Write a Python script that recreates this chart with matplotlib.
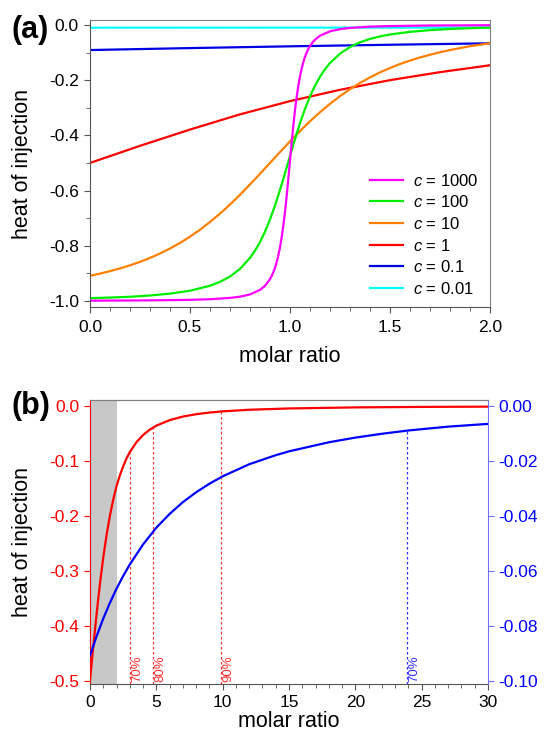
import matplotlib
matplotlib.use("Agg")
import matplotlib.pyplot as plt
from matplotlib.ticker import MultipleLocator, FuncFormatter

plt.rcParams["font.family"] = ["Liberation Sans", "DejaVu Sans"]
plt.rcParams["mathtext.fontset"] = "custom"
plt.rcParams["mathtext.it"] = "Liberation Sans:italic"
plt.rcParams["mathtext.rm"] = "Liberation Sans"
plt.rcParams["axes.unicode_minus"] = False

# ---- panel (a): heat of injection vs molar ratio for several c values ----
x_c1000 = [0.0, 0.3, 0.5, 0.6, 0.7, 0.75, 0.8, 0.85, 0.875, 0.9, 0.91, 0.92, 0.93,
           0.94, 0.95, 0.96, 0.97, 0.975, 0.98, 0.985, 0.99, 0.995, 1.0, 1.005, 1.01,
           1.015, 1.02, 1.025, 1.03, 1.04, 1.05, 1.06, 1.07, 1.08, 1.09, 1.1, 1.12,
           1.15, 1.2, 1.25, 1.3, 1.4, 1.5, 1.7, 2.0]
y_c1000 = [-0.999, -0.998, -0.996, -0.9938, -0.989, -0.9846, -0.9765, -0.960, -0.9454,
           -0.921, -0.9076, -0.890, -0.8686, -0.841, -0.8062, -0.7625, -0.7085, -0.6774,
           -0.644, -0.6081, -0.570, -0.5316, -0.492, -0.4528, -0.414, -0.3774, -0.342,
           -0.3099, -0.280, -0.228, -0.1862, -0.153, -0.1267, -0.106, -0.0894, -0.076,
           -0.0569, -0.039, -0.023, -0.0152, -0.0107, -0.0061, -0.004, -0.002, -0.001]

x_c100 = [0.0, 0.1, 0.2, 0.3, 0.4, 0.5, 0.6, 0.65, 0.7, 0.75, 0.8, 0.825, 0.85, 0.875,
          0.9, 0.925, 0.95, 0.97, 0.99, 1.0, 1.02, 1.05, 1.075, 1.1, 1.125, 1.15, 1.175,
          1.2, 1.25, 1.3, 1.35, 1.4, 1.45, 1.5, 1.6, 1.7, 1.8, 1.9, 2.0]
y_c100 = [-0.990, -0.9878, -0.985, -0.9802, -0.9735, -0.963, -0.945, -0.9309, -0.9116,
          -0.884, -0.844, -0.8182, -0.787, -0.7492, -0.705, -0.6545, -0.598, -0.5498,
          -0.500, -0.475, -0.4258, -0.356, -0.3044, -0.259, -0.2203, -0.188, -0.1605,
          -0.138, -0.104, -0.080, -0.0629, -0.0506, -0.0415, -0.0345, -0.025, -0.0187,
          -0.0146, -0.0117, -0.0095]

x_c10 = [0.0, 0.05, 0.1, 0.15, 0.2, 0.25, 0.3, 0.35, 0.4, 0.45, 0.5, 0.55, 0.6, 0.65,
         0.7, 0.75, 0.8, 0.85, 0.9, 0.95, 1.0, 1.05, 1.1, 1.15, 1.2, 1.25, 1.3, 1.35,
         1.4, 1.45, 1.5, 1.55, 1.6, 1.65, 1.7, 1.75, 1.8, 1.85, 1.9, 1.95, 2.0]
y_c10 = [-0.909, -0.9011, -0.892, -0.8822, -0.871, -0.8584, -0.844, -0.8281, -0.810,
         -0.7899, -0.767, -0.7421, -0.714, -0.6838, -0.651, -0.6154, -0.578, -0.5394,
         -0.500, -0.4606, -0.422, -0.3846, -0.349, -0.3162, -0.286, -0.2579, -0.233,
         -0.2101, -0.190, -0.1719, -0.156, -0.1416, -0.129, -0.1178, -0.108, -0.0989,
         -0.091, -0.0838, -0.077, -0.0717, -0.0665]

x_c1 = [0.0, 0.25, 0.5, 0.75, 1.0, 1.25, 1.5, 1.75, 2.0]
y_c1 = [-0.500, -0.438, -0.379, -0.324, -0.276, -0.235, -0.200, -0.171, -0.146]

x_c01 = [0.0, 0.5, 1.0, 1.5, 2.0]
y_c01 = [-0.0909, -0.0838, -0.0774, -0.0717, -0.0665]

x_c001 = [0.0, 0.5, 1.0, 1.5, 2.0]
y_c001 = [-0.0099, -0.0098, -0.0097, -0.0096, -0.0095]

labels_a = [r"$c$ = 1000", r"$c$ = 100", r"$c$ = 10", r"$c$ = 1", r"$c$ = 0.1", r"$c$ = 0.01"]
colors_a = ["#FF00FF", "#00EE00", "#FF8000", "#FF0000", "#0000E6", "#00FFFF"]

# ---- panel (b): c = 1 (left axis) and c = 0.1 (right axis) over a wide range ----
x_b_red = [0.0, 0.1, 0.2, 0.25, 0.4, 0.5, 0.6, 0.75, 0.8, 1.0, 1.25, 1.5, 1.75, 2.0,
           2.25, 2.5, 2.75, 3.0, 3.5, 4.0, 4.5, 5.0, 6.0, 7.0, 8.0, 9.0, 10.0, 12.0,
           15.0, 20.0, 25.0, 30.0]
y_b_red = [-0.500, -0.475, -0.4502, -0.438, -0.4019, -0.379, -0.3563, -0.324, -0.3143,
           -0.276, -0.235, -0.200, -0.1707, -0.146, -0.1263, -0.110, -0.0956, -0.084,
           -0.0659, -0.0528, -0.0431, -0.0358, -0.0257, -0.0192, -0.0149, -0.0119,
           -0.0097, -0.0068, -0.0044, -0.0025, -0.0016, -0.0011]

x_b_blue = [0.0, 0.5, 1.0, 1.5, 2.0, 2.5, 3.0, 4.0, 5.0, 6.0, 7.0, 8.0, 9.0, 10.0,
            12.0, 14.0, 15.0, 18.0, 20.0, 22.0, 24.0, 27.0, 30.0]
y_b_blue = [-0.0909, -0.0838, -0.0774, -0.0717, -0.0665, -0.0619, -0.0577, -0.0504,
            -0.0443, -0.0393, -0.0350, -0.0314, -0.0283, -0.0256, -0.0212, -0.0179,
            -0.0165, -0.0132, -0.0115, -0.0101, -0.0089, -0.0075, -0.0065]

pct_red_x = [3.0, 4.77, 9.87]
pct_red_y = [-0.086, -0.039, -0.0102]
pct_red_labels = ["70%", "80%", "90%"]
pct_blue_x = [23.9]
pct_blue_y = [-0.0090]
pct_blue_labels = ["70%"]
shade_range = [0.0, 2.0]


def fmt(decimals):
    def f(v, pos):
        if abs(v) < 1e-9:
            v = 0.0
        return f"{v:.{decimals}f}"
    return FuncFormatter(f)


TICK_FS = 12.5
LABEL_FS = 15.5

fig = plt.figure(figsize=(5.44, 7.35), dpi=100)
ax_a = fig.add_axes([0.1654, 0.5823, 0.7353, 0.3905])
ax_b = fig.add_axes([0.1654, 0.0694, 0.7316, 0.3864])

series_a = [(x_c1000, y_c1000), (x_c100, y_c100), (x_c10, y_c10),
            (x_c1, y_c1), (x_c01, y_c01), (x_c001, y_c001)]
for (xs, ys), lab, col in zip(series_a[::-1], labels_a[::-1], colors_a[::-1]):
    ax_a.plot(xs, ys, color=col, lw=1.6, label=lab)

handles, labs = ax_a.get_legend_handles_labels()
ax_a.legend(handles[::-1], labs[::-1], loc="lower left", frameon=False, fontsize=12,
            handlelength=2.0, handletextpad=0.6, labelspacing=0.34,
            borderpad=0.0, borderaxespad=0.0, bbox_to_anchor=(0.70, 0.035))

ax_a.set_xlim(0, 2)
ax_a.set_ylim(-1.022, 0.018)
ax_a.xaxis.set_major_locator(MultipleLocator(0.5))
ax_a.xaxis.set_minor_locator(MultipleLocator(0.1))
ax_a.yaxis.set_major_locator(MultipleLocator(0.2))
ax_a.yaxis.set_minor_locator(MultipleLocator(0.1))
ax_a.xaxis.set_major_formatter(fmt(1))
ax_a.yaxis.set_major_formatter(fmt(1))
ax_a.set_xlabel("molar ratio", fontsize=LABEL_FS, labelpad=8)
ax_a.set_ylabel("heat of injection", fontsize=LABEL_FS)
ax_a.yaxis.set_label_coords(-0.142, 0.5)
ax_a.tick_params(which="both", direction="out", top=False, right=False,
                 labelsize=TICK_FS, color="#555555", pad=5)
ax_a.tick_params(which="major", length=4)
ax_a.tick_params(which="minor", length=3)
ax_a.tick_params(axis="y", pad=4)
for sp in ["top", "right"]:
    ax_a.spines[sp].set_color("#808080")
for sp in ["left", "bottom"]:
    ax_a.spines[sp].set_color("#555555")
fig.text(0.022, 0.959, "(a)", fontsize=22, fontweight="bold", va="center")

# panel (b)
ax_b2 = ax_b.twinx()
ax_b.axvspan(shade_range[0], shade_range[1], color="#C8C8C8", lw=0, zorder=0)
ax_b.plot(x_b_red, y_b_red, color="#FF0000", lw=1.6, zorder=3)
ax_b2.plot(x_b_blue, y_b_blue, color="#0000FF", lw=1.6, zorder=3)

ax_b.set_xlim(0, 30)
ax_b.set_ylim(-0.506, 0.011)
ax_b2.set_ylim(-0.1012, 0.0022)

ybot = ax_b.get_ylim()[0]
ax_b.vlines(pct_red_x, ybot, pct_red_y, colors="#FF3030", linestyles=(0, (2, 2)), lw=0.9)
for xv, lab in zip(pct_red_x, pct_red_labels):
    ax_b.text(xv + 0.12, ybot + 0.003, lab, rotation=90, color="#FF3030", fontsize=9.5,
              ha="left", va="bottom")
ybot2 = ax_b2.get_ylim()[0]
ax_b2.vlines(pct_blue_x, ybot2, pct_blue_y, colors="#3030FF", linestyles=(0, (2, 2)), lw=0.9)
for xv, lab in zip(pct_blue_x, pct_blue_labels):
    ax_b2.text(xv + 0.12, ybot2 + 0.0006, lab, rotation=90, color="#3030FF", fontsize=9.5,
               ha="left", va="bottom")

ax_b.xaxis.set_major_locator(MultipleLocator(5))
ax_b.xaxis.set_minor_locator(MultipleLocator(1))
ax_b.yaxis.set_major_locator(MultipleLocator(0.1))
ax_b.yaxis.set_major_formatter(fmt(1))
ax_b2.yaxis.set_major_locator(MultipleLocator(0.02))
ax_b2.yaxis.set_major_formatter(fmt(2))

ax_b.set_xlabel("molar ratio", fontsize=LABEL_FS, labelpad=1)
ax_b.set_ylabel("heat of injection", fontsize=LABEL_FS)
ax_b.yaxis.set_label_coords(-0.142, 0.5)
ax_b.tick_params(axis="x", which="both", direction="out", labelsize=TICK_FS,
                 color="#555555", pad=4)
ax_b.tick_params(axis="x", which="major", length=4)
ax_b.tick_params(axis="x", which="minor", length=3)
ax_b.tick_params(axis="y", direction="out", length=4, labelsize=TICK_FS,
                 color="#FF0000", labelcolor="#FF0000")
ax_b2.tick_params(axis="y", direction="out", length=4, labelsize=TICK_FS,
                  color="#6E6EFF", labelcolor="#0000FF")
ax_b.spines["left"].set_color("#FF0000")
ax_b.spines["bottom"].set_color("#555555")
ax_b.spines["top"].set_color("#808080")
ax_b2.spines["left"].set_visible(False)
ax_b2.spines["bottom"].set_visible(False)
ax_b2.spines["top"].set_color("#808080")
ax_b2.spines["right"].set_color("#6E6EFF")
ax_b.spines["right"].set_visible(False)
fig.text(0.022, 0.447, "(b)", fontsize=22, fontweight="bold", va="center")

fig.savefig("out.png", dpi=100, facecolor="white")
